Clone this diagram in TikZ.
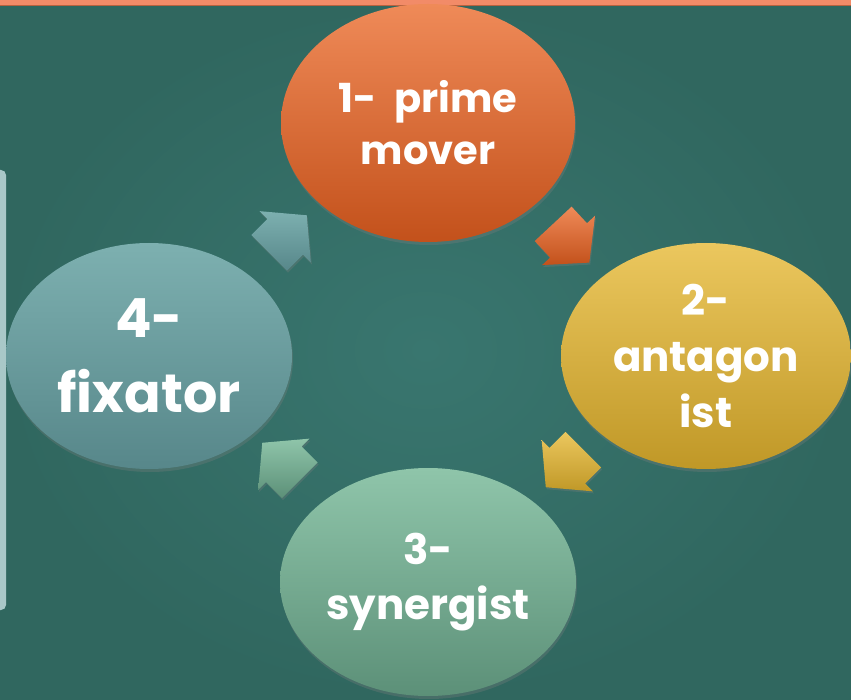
\documentclass[tikz,border=0pt]{standalone}
\usepackage{fontspec}
\setmainfont{Poppins}
\usepackage{xcolor}
\usepackage{tikz}
\usetikzlibrary{arrows.meta,positioning,calc,shapes.geometric,shapes.arrows,shadows}
\definecolor{bglight}{HTML}{39766F}
\definecolor{bgdark}{HTML}{30675F}
\definecolor{topbar}{HTML}{F28B68}
\definecolor{topedge}{HTML}{B8623F}
\definecolor{sidepanel}{HTML}{A9C8C8}
\definecolor{primetop}{HTML}{EF8A58}
\definecolor{primebot}{HTML}{C3511B}
\definecolor{antagtop}{HTML}{EBC75E}
\definecolor{antagbot}{HTML}{C09827}
\definecolor{synertop}{HTML}{8FC5AA}
\definecolor{synerbot}{HTML}{5C9078}
\definecolor{fixtop}{HTML}{7DB0B0}
\definecolor{fixbot}{HTML}{57878A}

\begin{document}
\begin{tikzpicture}[x=1pt,y=-1pt]
  \tikzstyle{phase}=[ellipse,inner sep=0pt,align=center,text=white,drop shadow={opacity=0.3,shadow xshift=1pt,shadow yshift=-3pt}]
  \tikzstyle{turn}=[single arrow,minimum height=53pt,single arrow head extend=11pt,single arrow tip angle=100,inner xsep=0pt,inner ysep=25pt,drop shadow={opacity=0.3,shadow xshift=1pt,shadow yshift=-2pt}]
  \useasboundingbox (0,0) rectangle (851,700);
  % slide background
  \shade[inner color=bglight,outer color=bgdark] (0,0) rectangle (851,700);
  \fill[topbar] (0,0) rectangle (851,5);
  \draw[topedge,line width=1pt] (0,5.5) -- (851,5.5);
  \fill[sidepanel,rounded corners=5pt] (-12,170) rectangle (6,610);
  % the four phases
  \node[phase,top color=primetop,bottom color=primebot,minimum width=294pt,minimum height=238pt,font=\bfseries\fontsize{40}{52}\selectfont] (prime) at (428,123) {1-~~prime\\mover};
  \node[phase,top color=antagtop,bottom color=antagbot,minimum width=290pt,minimum height=226pt,font=\bfseries\fontsize{42}{56}\selectfont] (antag) at (706,356) {2-\\antagon\\ist};
  \node[phase,top color=synertop,bottom color=synerbot,minimum width=296pt,minimum height=228pt,font=\bfseries\fontsize{42}{55}\selectfont] (syner) at (428,582) {3-\\synergist};
  \node[phase,top color=fixtop,bottom color=fixbot,minimum width=286pt,minimum height=226pt,font=\bfseries\fontsize{54}{75}\selectfont] (fix) at (149,356) {4-\\fixator};
  % arrows of the cycle
  \node[turn,top color=primetop,bottom color=primebot,rotate=-47] (a12) at ($(prime)!0.5!(antag)+(-3,-4)$) {};
  \node[turn,top color=antagtop,bottom color=antagbot,rotate=-135] (a23) at ($(antag)!0.5!(syner)+(5,-8)$) {};
  \node[turn,top color=synertop,bottom color=synerbot,rotate=135] (a34) at ($(syner)!0.5!(fix)$) {};
  \node[turn,top color=fixtop,bottom color=fixbot,rotate=45] (a41) at ($(fix)!0.5!(prime)+(-8,2)$) {};
\end{tikzpicture}
\end{document}
